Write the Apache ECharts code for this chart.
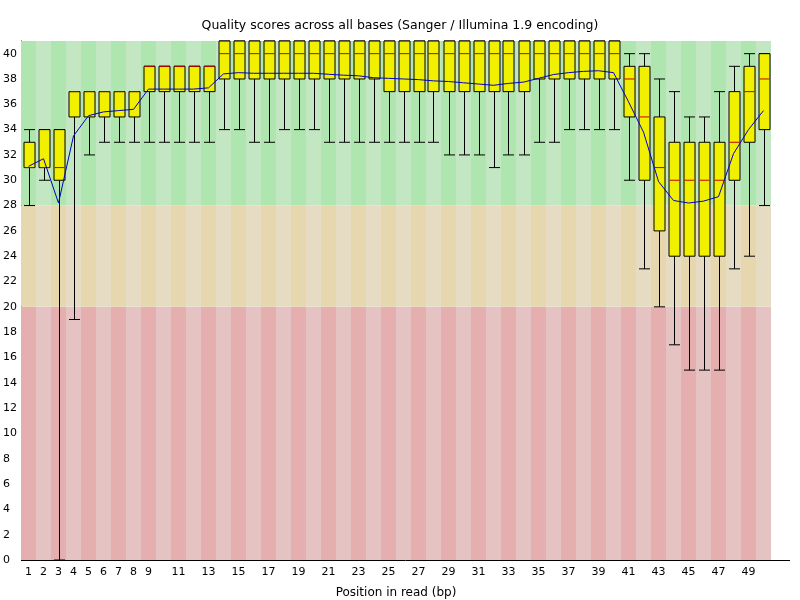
<!DOCTYPE html>
<html>
<head>
<meta charset="utf-8">
<title>Quality scores across all bases</title>
<script src="https://cdn.jsdelivr.net/npm/echarts@6/dist/echarts.min.js"></script>
<style>
  html, body { margin: 0; padding: 0; background: #fff; }
  #chart { width: 800px; height: 600px; }
</style>
</head>
<body>
<div id="chart"></div>
<script>
"use strict";

// positions in read (bp)
var positions = ['1','2','3','4','5','6','7','8','9','10',
                 '11','12','13','14','15','16','17','18','19','20',
                 '21','22','23','24','25','26','27','28','29','30',
                 '31','32','33','34','35','36','37','38','39','40',
                 '41','42','43','44','45','46','47','48','49','50'];

// 10th percentile (lower whisker)
var lowerWhisker = [28, 30, 0, 19, 32, 33, 33, 33, 33, 33,
                    33, 33, 33, 34, 34, 33, 33, 34, 34, 34,
                    33, 33, 33, 33, 33, 33, 33, 33, 32, 32,
                    32, 31, 32, 32, 33, 33, 34, 34, 34, 34,
                    30, 23, 20, 17, 15, 15, 15, 23, 24, 28];
// lower quartile
var lowerQuartile = [31, 31, 30, 35, 35, 35, 35, 35, 37, 37,
                     37, 37, 37, 38, 38, 38, 38, 38, 38, 38,
                     38, 38, 38, 38, 37, 37, 37, 37, 37, 37,
                     37, 37, 37, 37, 38, 38, 38, 38, 38, 38,
                     35, 30, 26, 24, 24, 24, 24, 30, 33, 34];
// median
var medians = [31, 31, 31, 37, 37, 37, 37, 37, 39, 39,
               39, 39, 39, 40, 40, 40, 40, 40, 40, 40,
               40, 40, 40, 40, 40, 40, 40, 40, 40, 40,
               40, 40, 40, 40, 40, 40, 40, 40, 40, 40,
               38, 35, 31, 30, 30, 30, 30, 33, 37, 38];
// upper quartile
var upperQuartile = [33, 34, 34, 37, 37, 37, 37, 37, 39, 39,
                     39, 39, 39, 41, 41, 41, 41, 41, 41, 41,
                     41, 41, 41, 41, 41, 41, 41, 41, 41, 41,
                     41, 41, 41, 41, 41, 41, 41, 41, 41, 41,
                     39, 39, 35, 33, 33, 33, 33, 37, 39, 40];
// 90th percentile (upper whisker)
var upperWhisker = [34, 34, 34, 37, 37, 37, 37, 37, 39, 39,
                    39, 39, 39, 41, 41, 41, 41, 41, 41, 41,
                    41, 41, 41, 41, 41, 41, 41, 41, 41, 41,
                    41, 41, 41, 41, 41, 41, 41, 41, 41, 41,
                    40, 40, 38, 37, 35, 35, 37, 39, 40, 40];
// mean quality
var means = [31.1, 31.7, 28.2, 33.5, 35.1, 35.4, 35.5, 35.6, 37.2, 37.2,
             37.2, 37.2, 37.3, 38.4, 38.5, 38.45, 38.45, 38.45, 38.45, 38.45,
             38.37, 38.3, 38.25, 38.1, 38.05, 38.0, 37.95, 37.85, 37.8, 37.7,
             37.6, 37.5, 37.65, 37.75, 38.05, 38.35, 38.5, 38.6, 38.65, 38.5,
             36.2, 33.8, 29.9, 28.4, 28.2, 28.35, 28.7, 32.1, 34.0, 35.5];

// y tick labels
var yTicks = [0, 2, 4, 6, 8, 10, 12, 14, 16, 18, 20, 22, 24, 26, 28, 30, 32, 34, 36, 38, 40];

// quality bands: [from, to, dark stripe, light stripe]
var bands = [
    [0, 20, '#e6afaf', '#e6c3c3'],
    [20, 28, '#e6d7af', '#e6dcc3'],
    [28, 41, '#afe6af', '#c3e6c3']
];

var GRID = { left: 21, right: 29, top: 41, bottom: 40, outerBoundsMode: 'none' };

var chart = echarts.init(document.getElementById('chart'));

var stripeData = positions.map(function (p, i) { return [i]; });
var boxData = positions.map(function (p, i) {
    return [i, lowerWhisker[i], lowerQuartile[i], medians[i], upperQuartile[i], upperWhisker[i]];
});

function renderStripes(params, api) {
    var i = api.value(0);
    var w = api.size([1, 0])[0];
    var children = bands.map(function (b) {
        var p0 = api.coord([i, b[0]]);
        var p1 = api.coord([i, b[1]]);
        return {
            type: 'rect',
            shape: { x: p0[0] - w / 2, y: p1[1], width: w, height: p0[1] - p1[1] },
            style: { fill: i % 2 === 0 ? b[2] : b[3] }
        };
    });
    return { type: 'group', children: children };
}

function renderBox(params, api) {
    var i = api.value(0);
    var lo = api.coord([i, api.value(1)]);
    var q1 = api.coord([i, api.value(2)]);
    var md = api.coord([i, api.value(3)]);
    var q3 = api.coord([i, api.value(4)]);
    var hi = api.coord([i, api.value(5)]);
    var w = Math.round(api.size([1, 0])[0] * 0.76);
    var x = Math.round(lo[0]) + 0.5;
    var x0 = x - w / 2, x1 = x + w / 2;
    var black = { stroke: '#000', lineWidth: 1 };
    return {
        type: 'group',
        children: [
            { type: 'line', shape: { x1: x, y1: hi[1], x2: x, y2: q3[1] }, style: black },
            { type: 'line', shape: { x1: x, y1: q1[1], x2: x, y2: lo[1] }, style: black },
            { type: 'line', shape: { x1: x0, y1: hi[1], x2: x1, y2: hi[1] }, style: black },
            { type: 'line', shape: { x1: x0, y1: lo[1], x2: x1, y2: lo[1] }, style: black },
            {
                type: 'rect',
                shape: { x: x0, y: q3[1], width: w, height: q1[1] - q3[1] },
                style: { fill: '#f0f000', stroke: '#000', lineWidth: 1 }
            },
            { type: 'line', shape: { x1: x0 + 0.5, y1: md[1], x2: x1 - 0.5, y2: md[1] }, style: { stroke: '#c80000', lineWidth: 1 } }
        ]
    };
}

var option = {
    animation: false,
    title: {
        text: 'Quality scores across all bases (Sanger / Illumina 1.9 encoding)',
        left: 'center',
        top: 14,
        textStyle: { fontFamily: 'DejaVu Sans', fontSize: 12.5, fontWeight: 'normal', color: '#000' }
    },
    grid: GRID,
    xAxis: {
        type: 'category',
        data: positions,
        name: 'Position in read (bp)',
        nameLocation: 'middle',
        nameGap: 27,
        nameTextStyle: { fontFamily: 'DejaVu Sans', fontSize: 12, color: '#000' },
        axisLine: { show: false },
        axisTick: { show: false },
        splitLine: { show: false },
        axisLabel: {
            fontFamily: 'DejaVu Sans',
            fontSize: 11,
            color: '#000',
            margin: 7,
            interval: function (idx) { return idx < 9 || idx % 2 === 0; }
        }
    },
    yAxis: {
        type: 'value',
        min: 0,
        max: 41,
        interval: 2,
        axisLine: { show: true, lineStyle: { color: '#000', width: 1 } },
        axisTick: { show: false },
        splitLine: { show: false },
        axisLabel: {
            fontFamily: 'DejaVu Sans',
            fontSize: 11,
            color: '#000',
            align: 'left',
            margin: 18,
            formatter: function (v) { return yTicks.indexOf(v) >= 0 ? String(v) : ''; }
        }
    },
    graphic: [{
        type: 'line',
        z: 100,
        shape: { x1: GRID.left, y1: 600 - GRID.bottom + 0.5, x2: 790, y2: 600 - GRID.bottom + 0.5 },
        style: { stroke: '#000', lineWidth: 1 }
    }],
    series: [
        {
            type: 'custom',
            name: 'bands',
            renderItem: renderStripes,
            data: stripeData,
            encode: { x: 0 },
            silent: true,
            z: 1
        },
        {
            type: 'custom',
            name: 'quality',
            renderItem: renderBox,
            data: boxData,
            encode: { x: 0, y: [1, 2, 3, 4, 5] },
            silent: true,
            z: 2
        },
        {
            type: 'line',
            name: 'mean',
            data: means,
            symbol: 'none',
            lineStyle: { color: '#0000c8', width: 1 },
            silent: true,
            z: 3
        }
    ]
};

chart.setOption(option);
</script>
</body>
</html>
